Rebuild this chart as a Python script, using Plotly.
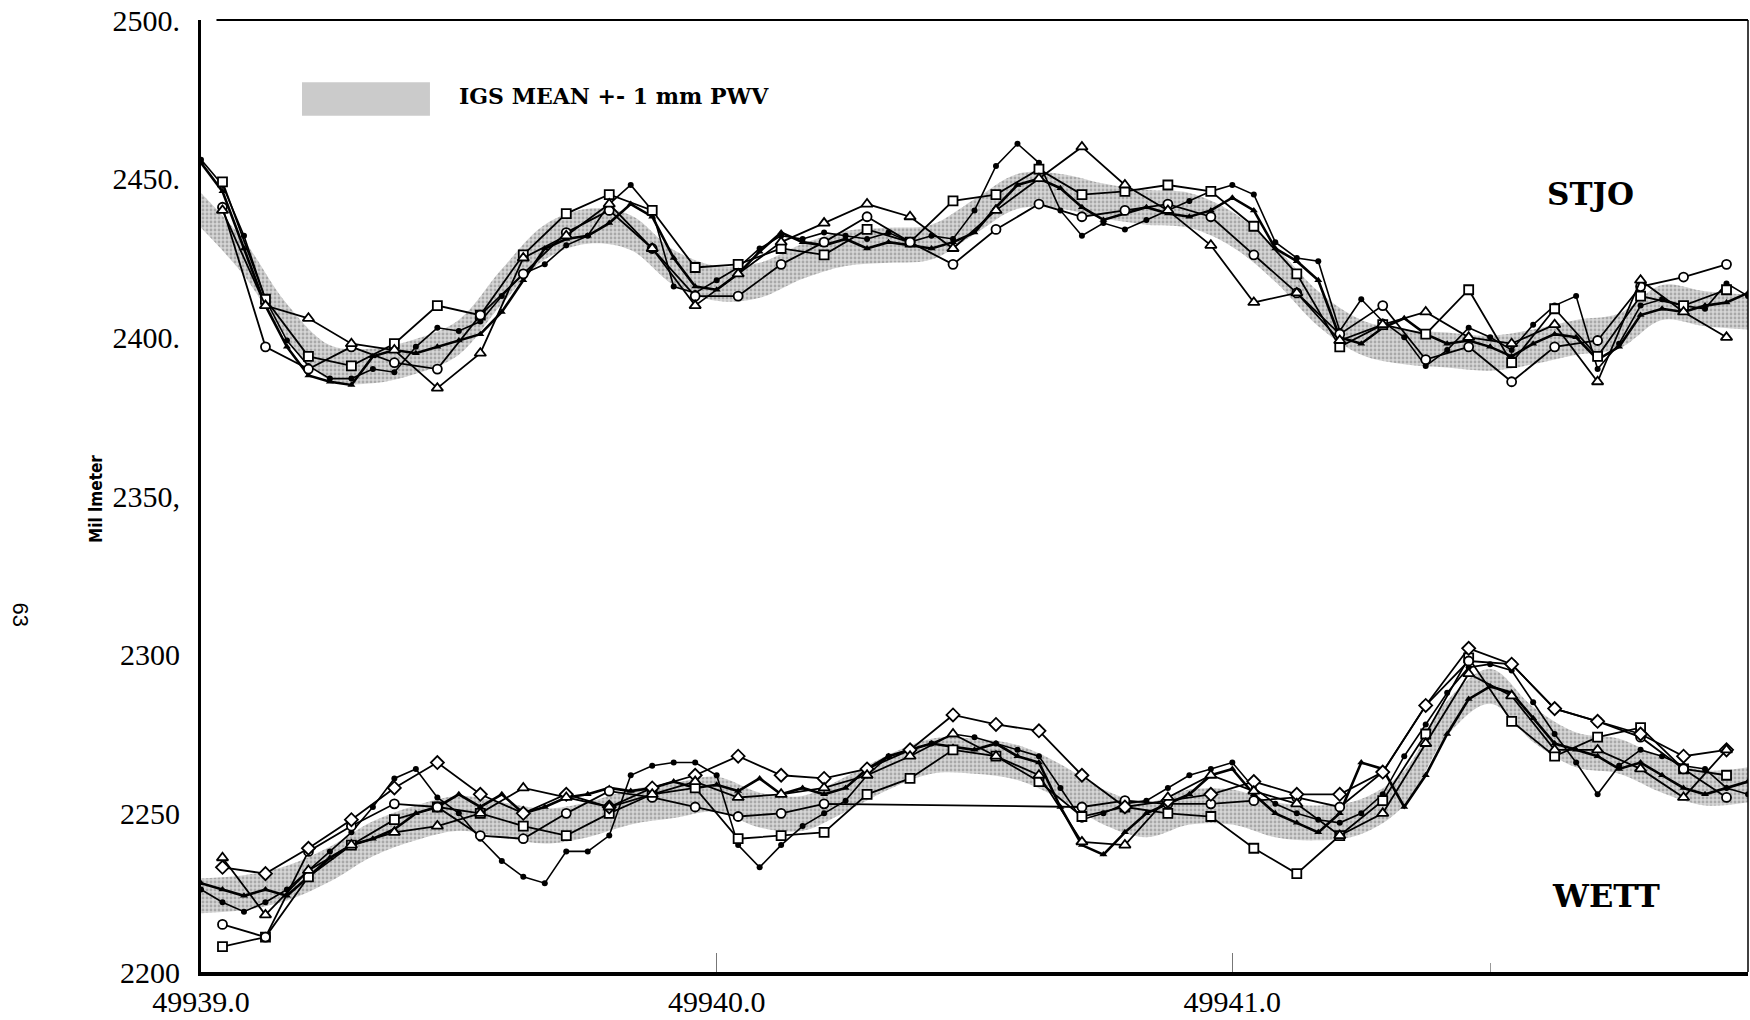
import numpy as np
import plotly.graph_objects as go

# ---------------- data (millimetres of zenith delay, MJD time axis) ----------------
MJD0 = 49939.0
BAND_HALF = 5.5  # half width of the IGS mean band (~1 mm PWV)

X_TICKS = [49939.0, 49940.0, 49941.0]
X_TICK_TEXT = ["49939.0", "49940.0", "49941.0"]
Y_TICKS = [2200, 2250, 2300, 2350, 2400, 2450, 2500]
Y_TICK_TEXT = ["2200", "2250", "2300", "2350,", "2400.", "2450.", "2500."]

# ---- STJO ----
# band centre, every 2 h
STJO_BAND = [2440, 2425, 2405, 2392, 2391, 2394, 2400, 2416, 2430, 2435,
             2433, 2422, 2417, 2418, 2424, 2428, 2429, 2430, 2438, 2446,
             2446, 2443, 2441, 2440, 2434, 2423, 2409, 2400, 2397, 2396,
             2395, 2397, 2400, 2402, 2411, 2409, 2408]
# dense solutions, hourly
STJO_DOTS = [2456, 2448, 2432, 2412, 2399, 2391, 2387, 2387, 2390, 2389,
             2397, 2403, 2402, 2405, 2413, 2420, 2423, 2429, 2432, 2442,
             2448, 2440, 2416, 2414, 2418, 2422, 2428, 2432, 2431, 2433,
             2432, 2431, 2433, 2430, 2432, 2431, 2440, 2454, 2461, 2455,
             2440, 2432, 2436, 2434, 2437, 2440, 2443, 2446, 2448, 2445,
             2430, 2425, 2424, 2402, 2412, 2405, 2400, 2391, 2396, 2403,
             2400, 2396, 2404, 2410, 2413, 2390, 2398, 2410, 2412, 2410,
             2409, 2417, 2413]
STJO_FTRI = [2455, 2446, 2428, 2410, 2397, 2388, 2386, 2385, 2394, 2396,
             2395, 2397, 2399, 2401, 2408, 2418, 2428, 2431, 2432, 2436,
             2442, 2438, 2425, 2416, 2415, 2420, 2427, 2433, 2430, 2429,
             2431, 2428, 2430, 2429, 2428, 2430, 2433, 2441, 2448, 2450,
             2447, 2441, 2437, 2439, 2441, 2439, 2438, 2440, 2444, 2440,
             2428, 2424, 2418, 2400, 2398, 2403, 2406, 2401, 2398, 2399,
             2397, 2394, 2398, 2401, 2400, 2393, 2397, 2407, 2409, 2408,
             2410, 2411, 2414]
# sparse solutions, every 2 h at odd hours
STJO_SQ = [2449, 2412, 2394, 2391, 2398, 2410, 2407, 2426, 2439, 2445,
           2440, 2422, 2423, 2428, 2426, 2434, 2430, 2443, 2445, 2453,
           2445, 2446, 2448, 2446, 2435, 2420, 2397, 2404, 2401, 2415,
           2392, 2409, 2394, 2413, 2410, 2415]
STJO_CI = [2441, 2397, 2390, 2397, 2392, 2390, 2407, 2420, 2433, 2440,
           2428, 2413, 2413, 2423, 2430, 2438, 2430, 2423, 2434, 2442,
           2438, 2440, 2442, 2438, 2426, 2414, 2401, 2410, 2393, 2397,
           2386, 2397, 2399, 2416, 2419, 2423]
STJO_TR = [2440, 2410, 2406, 2398, 2396, 2384, 2395, 2425, 2432, 2442,
           2428, 2410, 2420, 2430, 2436, 2442, 2438, 2428, 2440, 2450,
           2460, 2448, 2440, 2429, 2411, 2414, 2399, 2404, 2408, 2400,
           2398, 2404, 2386, 2418, 2408, 2400]

# ---- WETT ----
WETT_BAND = [2224, 2225, 2228, 2234, 2242, 2247, 2250, 2248, 2246, 2248,
             2252, 2254, 2256, 2251, 2250, 2256, 2263, 2268, 2268, 2266,
             2260, 2252, 2248, 2252, 2252, 2248, 2247, 2249, 2258, 2280,
             2290, 2278, 2270, 2268, 2262, 2258, 2259]
WETT_DOTS = [2226, 2222, 2219, 2222, 2226, 2232, 2238, 2244, 2252, 2261,
             2264, 2255, 2250, 2242, 2235, 2230, 2228, 2238, 2238, 2243,
             2262, 2265, 2266, 2266, 2262, 2240, 2233, 2240, 2246, 2250,
             2254, 2262, 2268, 2270, 2272, 2275, 2274, 2272, 2270, 2268,
             2258, 2248, 2250, 2253, 2254, 2258, 2262, 2264, 2266, 2258,
             2253, 2250, 2248, 2247, 2250, 2256, 2268, 2278, 2288, 2296,
             2297, 2295, 2285, 2275, 2266, 2256, 2265, 2270, 2268, 2265,
             2264, 2258, 2256]
WETT_FTRI = [2228, 2226, 2224, 2226, 2224, 2230, 2236, 2240, 2242, 2245,
             2250, 2252, 2256, 2252, 2256, 2250, 2252, 2255, 2256, 2258,
             2257, 2258, 2260, 2258, 2259, 2257, 2261, 2256, 2258, 2256,
             2258, 2264, 2268, 2270, 2272, 2271, 2270, 2272, 2268, 2266,
             2252, 2240, 2237, 2244, 2250, 2253, 2256, 2262, 2264, 2256,
             2250, 2247, 2244, 2250, 2266, 2264, 2252, 2262, 2275, 2286,
             2290, 2288, 2280, 2272, 2270, 2268, 2264, 2266, 2262, 2258,
             2256, 2258, 2260]
WETT_SQ = [2208, 2211, 2230, 2240, 2248, 2252, 2250, 2246, 2243, 2250,
           2256, 2258, 2242, 2243, 2244, 2256, 2261, 2270, 2268, 2260,
           2249, 2252, 2250, 2249, 2239, 2231, 2243, 2254, 2275, 2299,
           2279, 2268, 2274, 2277, 2264, 2262]
WETT_CI = [2215, 2211, 2238, 2246, 2253, 2252, 2243, 2242, 2250, 2257,
           2255, 2252, 2249, 2250, 2253, None, None, None, None, None,
           2252, 2254, 2253, 2253, 2254, 2255, 2252, 2263, 2284, 2298,
           2297, 2283, 2279, 2274, 2264, 2255]
WETT_DI = [2233, 2231, 2239, 2248, 2258, 2266, 2256, 2250, 2256, 2252,
           2258, 2262, 2268, 2262, 2261, 2264, 2270, 2281, 2278, 2276,
           2262, 2252, 2254, 2256, 2260, 2256, 2256, 2263, 2284, 2302,
           2297, 2283, 2279, 2275, 2268, 2270]
WETT_TR = [2236, 2218, 2232, 2240, 2244, 2246, 2250, 2258, 2255, 2252,
           2256, 2260, 2255, 2256, 2258, 2262, 2268, 2275, 2268, 2262,
           2241, 2240, 2255, 2262, 2257, 2253, 2243, 2250, 2272, 2294,
           2287, 2270, 2270, 2264, 2255, 2270]


def hourly(vals):
    return MJD0 + np.arange(len(vals)) / 24.0


def odd_hours(vals):
    return MJD0 + (2 * np.arange(len(vals)) + 1) / 24.0


def two_hourly(vals):
    return MJD0 + np.arange(len(vals)) / 12.0


fig = go.Figure()

# grey bands
for band in (STJO_BAND, WETT_BAND):
    b = np.array(band, dtype=float)
    xb = two_hourly(band)
    fig.add_trace(go.Scatter(x=xb, y=b - BAND_HALF, mode="lines",
                             line=dict(width=0, shape="spline", color="rgba(0,0,0,0)"),
                             hoverinfo="skip", showlegend=False))
    fig.add_trace(go.Scatter(x=xb, y=b + BAND_HALF, mode="lines",
                             line=dict(width=0, shape="spline", color="rgba(0,0,0,0)"),
                             fill="tonexty", fillcolor="#cfcfcf",
                             fillpattern=dict(shape=".", fgcolor="#7a7a7a",
                                              bgcolor="#d6d6d6", size=4, solidity=0.4),
                             hoverinfo="skip", showlegend=False))


def dense(vals, symbol, msize, lw):
    fig.add_trace(go.Scatter(
        x=hourly(vals), y=vals, mode="lines+markers",
        line=dict(color="black", width=lw),
        marker=dict(symbol=symbol, size=msize, color="black"),
        showlegend=False))


def sparse(vals, symbol, msize):
    fig.add_trace(go.Scatter(
        x=odd_hours(vals), y=vals, mode="lines+markers", connectgaps=True,
        line=dict(color="black", width=1.8),
        marker=dict(symbol=symbol, size=msize, color="white",
                    line=dict(color="black", width=1.8)),
        showlegend=False))


for d, t in ((STJO_DOTS, STJO_FTRI), (WETT_DOTS, WETT_FTRI)):
    dense(t, "triangle-up", 7, 2.6)
    dense(d, "circle", 6, 1.6)

sparse(STJO_SQ, "square", 9)
sparse(STJO_CI, "circle", 9)
sparse(STJO_TR, "triangle-up", 10)
sparse(WETT_SQ, "square", 9)
sparse(WETT_CI, "circle", 9)
sparse(WETT_DI, "diamond", 10)
sparse(WETT_TR, "triangle-up", 10)

serif = "Liberation Serif, Times New Roman, serif"
wide_serif = "DejaVu Serif, Liberation Serif, serif"

fig.update_layout(
    width=1750, height=1020,
    margin=dict(l=201, r=2, t=20, b=36),
    paper_bgcolor="white", plot_bgcolor="white",
    showlegend=False,
    font=dict(family=serif, color="black"),
    xaxis=dict(range=[49939.0, 49942.0], tickmode="array",
               tickvals=X_TICKS, ticktext=X_TICK_TEXT,
               ticks="inside", ticklen=19, tickwidth=1, tickcolor="#777777",
               minor=dict(tickmode="array", tickvals=[49941.5], ticks="inside",
                          ticklen=9, tickwidth=1, tickcolor="#999999"),
               showline=True, linewidth=4, linecolor="black",
               showgrid=False, zeroline=False,
               tickfont=dict(family=serif, size=30, color="black")),
    yaxis=dict(range=[2200, 2500], tickmode="array",
               tickvals=Y_TICKS, ticktext=Y_TICK_TEXT, ticks="",
               showline=True, linewidth=3, linecolor="black",
               showgrid=False, zeroline=False, ticklabelstandoff=12,
               tickfont=dict(family=serif, size=30, color="black")),
    shapes=[
        dict(type="line", xref="paper", yref="paper", x0=0.01, x1=1.0, y0=1.0, y1=1.0,
             line=dict(color="black", width=2)),
        dict(type="line", xref="paper", yref="paper", x0=1.0, x1=1.0, y0=0.0, y1=1.0,
             line=dict(color="black", width=1.5)),
        dict(type="rect", xref="paper", yref="paper", x0=0.0653, x1=0.148,
             y0=0.8994, y1=0.9347, fillcolor="#cbcbcb", line=dict(width=0)),
    ],
    annotations=[
        dict(text="IGS MEAN +- 1 mm PWV", xref="paper", yref="paper",
             x=0.1655, y=0.9201, xanchor="left", yanchor="middle", showarrow=False,
             font=dict(family=wide_serif, size=22, color="black", weight="bold")),
        dict(text="STJO", xref="paper", yref="paper", x=0.8985, y=0.8174,
             xanchor="center", yanchor="middle", showarrow=False,
             font=dict(family=wide_serif, size=31, color="black", weight="bold")),
        dict(text="WETT", xref="paper", yref="paper", x=0.908, y=0.0799,
             xanchor="center", yanchor="middle", showarrow=False,
             font=dict(family=wide_serif, size=32, color="black", weight="bold")),
        dict(text="Mil lmeter", xref="paper", yref="paper", x=-0.0679, y=0.4969,
             xanchor="center", yanchor="middle", showarrow=False, textangle=-90,
             font=dict(family="Liberation Sans Narrow, DejaVu Sans Condensed, Arial Narrow, sans-serif",
                       size=17, color="black", weight="bold")),
        dict(text="63", xref="paper", yref="paper", x=-0.117, y=0.3755,
             xanchor="center", yanchor="middle", showarrow=False, textangle=90,
             font=dict(family="Liberation Sans, Arial, sans-serif", size=22, color="black")),
    ],
)

fig.write_html("out.html")
